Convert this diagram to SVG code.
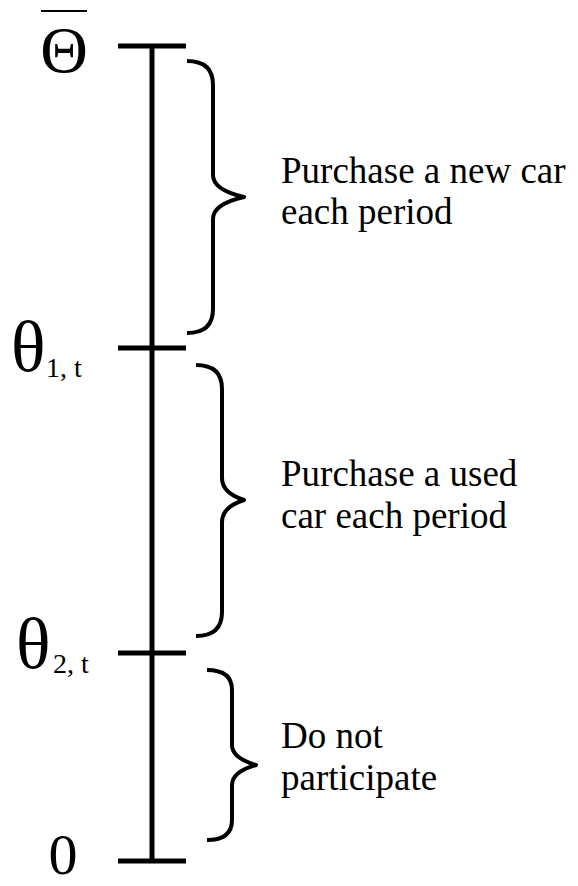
<svg xmlns="http://www.w3.org/2000/svg" width="578" height="886" viewBox="0 0 578 886">
<style>
.ax{stroke:#000;stroke-width:5;fill:none}
.br{stroke:#000;stroke-width:4;fill:none;stroke-linejoin:round}
text{font-family:'Liberation Serif','Times New Roman',Times,serif;fill:#000}
.lbl{font-size:37px}
</style>
<rect width="578" height="886" fill="#fff"/>
<g id="connectors">
<line class="ax" x1="152" y1="45" x2="152" y2="862"/>
</g>
<g id="tick-top">
<line class="ax" x1="118" y1="46" x2="186" y2="46"/>
<line x1="41" y1="11" x2="87" y2="11" stroke="#000" stroke-width="2"/>
<text font-family="Liberation Serif, serif" x="64" y="72" font-size="66" text-anchor="middle">Θ</text>
</g>
<g id="tick-theta1">
<line class="ax" x1="118" y1="348" x2="186" y2="348"/>
<text font-family="Liberation Serif, serif" x="11" y="371" font-size="72">θ</text>
<text font-family="Liberation Serif, serif" x="46" y="377" font-size="28">1, t</text>
</g>
<g id="tick-theta2">
<line class="ax" x1="118" y1="653" x2="186" y2="653"/>
<text font-family="Liberation Serif, serif" x="16" y="668" font-size="72">θ</text>
<text font-family="Liberation Serif, serif" x="53" y="673" font-size="28">2, t</text>
</g>
<g id="tick-zero">
<line class="ax" x1="118" y1="861" x2="186" y2="861"/>
<text font-family="Liberation Serif, serif" x="63" y="874" font-size="58" text-anchor="middle">0</text>
</g>
<g id="brace-new">
<path class="br" d="M187,61 Q213,61 213,85 L213,175 Q213,190 244,197 Q213,204 213,219 L213,309 Q213,333 187,333"/>
<text class="lbl" font-family="Liberation Serif, serif" x="281" y="183">Purchase a new car</text>
<text class="lbl" font-family="Liberation Serif, serif" x="281" y="224">each period</text>
</g>
<g id="brace-used">
<path class="br" d="M196,365 Q222,365 222,389 L222,478 Q222,493 244,500 Q222,507 222,522 L222,612 Q222,636 196,636"/>
<text class="lbl" font-family="Liberation Serif, serif" x="281" y="486">Purchase a used</text>
<text class="lbl" font-family="Liberation Serif, serif" x="281" y="528">car each period</text>
</g>
<g id="brace-none">
<path class="br" d="M207,670 Q232,670 232,690 L232,745 Q232,758 256,765 Q232,772 232,785 L232,820 Q232,840 207,840"/>
<text class="lbl" font-family="Liberation Serif, serif" x="281" y="748">Do not</text>
<text class="lbl" font-family="Liberation Serif, serif" x="281" y="790">participate</text>
</g>
</svg>
